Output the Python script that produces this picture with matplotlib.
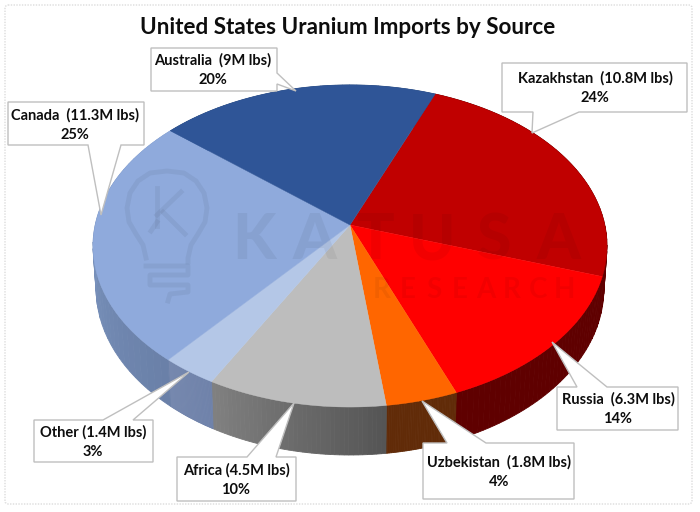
import numpy as np
import matplotlib
matplotlib.use("Agg")
import matplotlib.pyplot as plt
from matplotlib.patches import Polygon, FancyBboxPatch
from matplotlib.colors import to_rgb

# ---- data ----
names = ["Kazakhstan", "Russia", "Uzbekistan", "Africa", "Other", "Canada", "Australia"]
lbs = [10.8, 6.3, 1.8, 4.5, 1.4, 11.3, 9.0]
lbs_text = ["10.8M", "6.3M", "1.8M", "4.5M", "1.4M", "11.3M", "9M"]
pct_text = ["24%", "14%", "4%", "10%", "3%", "25%", "20%"]
gaps = ["  ", "  ", "  ", " ", " ", "  ", "  "]
top_colors = ["#C00000", "#FF0000", "#FF6600", "#BDBDBD", "#B4C7E7", "#8FAADC", "#2F5597"]
side_start = ["#600000", "#5F0000", "#612B08", "#555555", "#6F82AA", "#6A80A8", "#2F4F80"]
side_end = ["#600000", "#5F0000", "#612B08", "#808080", "#7688AE", "#86A2CF", "#2F4F80"]
title = "United States Uranium Imports by Source"

# ---- geometry of the tilted pie (pixels) ----
CX, CY = 350, 225
B, A, R = 0.1304, 158.3, 254.8
START_DEG = 68
DEPTH = 41.7

def project(t, lower=False):
    x, y = np.cos(t), np.sin(t)
    w = 1 + B * y
    px = R * x / w
    py = A * y / w
    if lower:
        return CX + 0.988 * px, CY - py + DEPTH / w
    return CX + px, CY - py

fig = plt.figure(figsize=(7, 5.12), dpi=100)
ax = fig.add_axes([0, 0, 1, 1])
ax.set_xlim(0, 700)
ax.set_ylim(512, 0)
ax.axis("off")

# outer frame
ax.add_patch(FancyBboxPatch((5, 5), 687, 499, boxstyle="round,pad=0,rounding_size=3",
                            fc="white", ec="#DCDCDC", lw=1, ls=(0, (1, 1)), zorder=0))

ax.text(348, 27, title, ha="center", va="center", fontsize=16.2,
        family="Lato", weight="bold", color="#0D0D0D", zorder=10)

# slices: angles follow the values, clockwise
fracs = np.array(lbs) / np.sum(lbs)
edges = np.radians(START_DEG) - 2 * np.pi * np.concatenate([[0], np.cumsum(fracs)])

# side wall
for i in range(len(lbs)):
    t0, t1 = edges[i], edges[i + 1]
    ts = np.linspace(t0, t1, 40)
    c0, c1 = np.array(to_rgb(side_start[i])), np.array(to_rgb(side_end[i]))
    for j in range(len(ts) - 1):
        s = np.linspace(ts[j], ts[j + 1], 3)
        ux, uy = project(s)
        lx, ly = project(s, lower=True)
        col = c0 + (c1 - c0) * j / (len(ts) - 2)
        pts = np.r_[np.c_[ux, uy], np.c_[lx, ly][::-1]]
        ax.add_patch(Polygon(pts, closed=True, fc=col, ec=col, lw=0.6, zorder=2))

# top face
for i in range(len(lbs)):
    ts = np.linspace(edges[i], edges[i + 1], 200)
    ux, uy = project(ts)
    pts = np.r_[[[CX, CY]], np.c_[ux, uy]]
    ax.add_patch(Polygon(pts, closed=True, fc=top_colors[i], ec=top_colors[i], lw=0.3, zorder=3))

# watermark
wm = "#000000"
for ch, x in zip("KATUSA", [254, 314, 375, 432, 494, 558]):
    ax.text(x, 241, ch, ha="center", va="center", fontsize=45, family="Lato",
            weight="black", color=wm, alpha=0.05, zorder=4)
for ch, x in zip("RESEARCH", [382, 408, 434, 460, 486, 512, 538, 564]):
    ax.text(x, 290, ch, ha="center", va="center", fontsize=20, family="Lato",
            weight="bold", color=wm, alpha=0.05, zorder=4)
bulb_x = [146, 143, 136, 129, 127, 130, 138, 150, 167, 184, 196, 204, 207, 205, 198, 191, 188, 188]
bulb_y = [258, 245, 234, 222, 208, 193, 181, 173, 171, 173, 181, 193, 208, 222, 234, 245, 258, 262]
ax.plot(bulb_x, bulb_y, color=wm, alpha=0.05, lw=3.5, zorder=4)
for xs, ys in [([146, 188, 188, 150, 150, 188, 188, 170, 168], [266, 266, 275, 275, 285, 285, 292, 294, 301]),
               ([157, 157], [188, 226]), ([157, 181], [215, 192]), ([163, 185], [212, 234]),
               ([157, 151], [222, 231])]:
    ax.plot(xs, ys, color=wm, alpha=0.05, lw=3.5, zorder=4)

# callouts: box (l, r, t, b), pointer polygon points, text centre
callouts = {
    "Kazakhstan": ((502, 687, 63, 112), [(533, 112), (532, 133), (579, 112)], (595, 78, 98)),
    "Russia": ((557, 678, 387, 430), [(577, 387), (552, 342), (607, 387)], (618, 399, 419)),
    "Uzbekistan": ((423, 574, 443, 499), [(447, 443), (422, 401), (486, 443)], (499, 462, 482)),
    "Africa": ((177, 296, 457, 501), [(247, 457), (294, 403), (276, 457)], (236, 470, 490)),
    "Other": ((34, 153, 420, 462), [(103, 420), (189, 372), (133, 420)], (93, 432, 452)),
    "Canada": ((8, 144, 102, 145), [(88, 145), (101, 215), (121, 145)], (75, 115, 135)),
    "Australia": ((151, 277, 48, 91), [(277, 73), (296, 91), (277, 84)], (213, 60, 80)),
}
for i, name in enumerate(names):
    (l, r, t, b), ptr, (tx, y1, y2) = callouts[name]
    if name == "Australia":
        pts = [(l, t), (r, t), ptr[0], ptr[1], ptr[2], (r, b), (l, b)]
    elif name in ("Kazakhstan", "Canada"):
        pts = [(l, t), (r, t), (r, b), ptr[2], ptr[1], ptr[0], (l, b)]
    else:
        pts = [(l, t), ptr[0], ptr[1], ptr[2], (r, t), (r, b), (l, b)]
    ax.add_patch(Polygon(pts, closed=True, fc="white", ec="#BFBFBF", lw=1, zorder=6))
    ax.text(tx, y1, f"{name}{gaps[i]}({lbs_text[i]} lbs)", ha="center", va="center", fontsize=10.5,
            family="Lato", weight="bold", color="#0D0D0D", zorder=7)
    ax.text(tx, y2, pct_text[i], ha="center", va="center", fontsize=10.5,
            family="Lato", weight="bold", color="#0D0D0D", zorder=7)

fig.savefig("out.png", dpi=100)
